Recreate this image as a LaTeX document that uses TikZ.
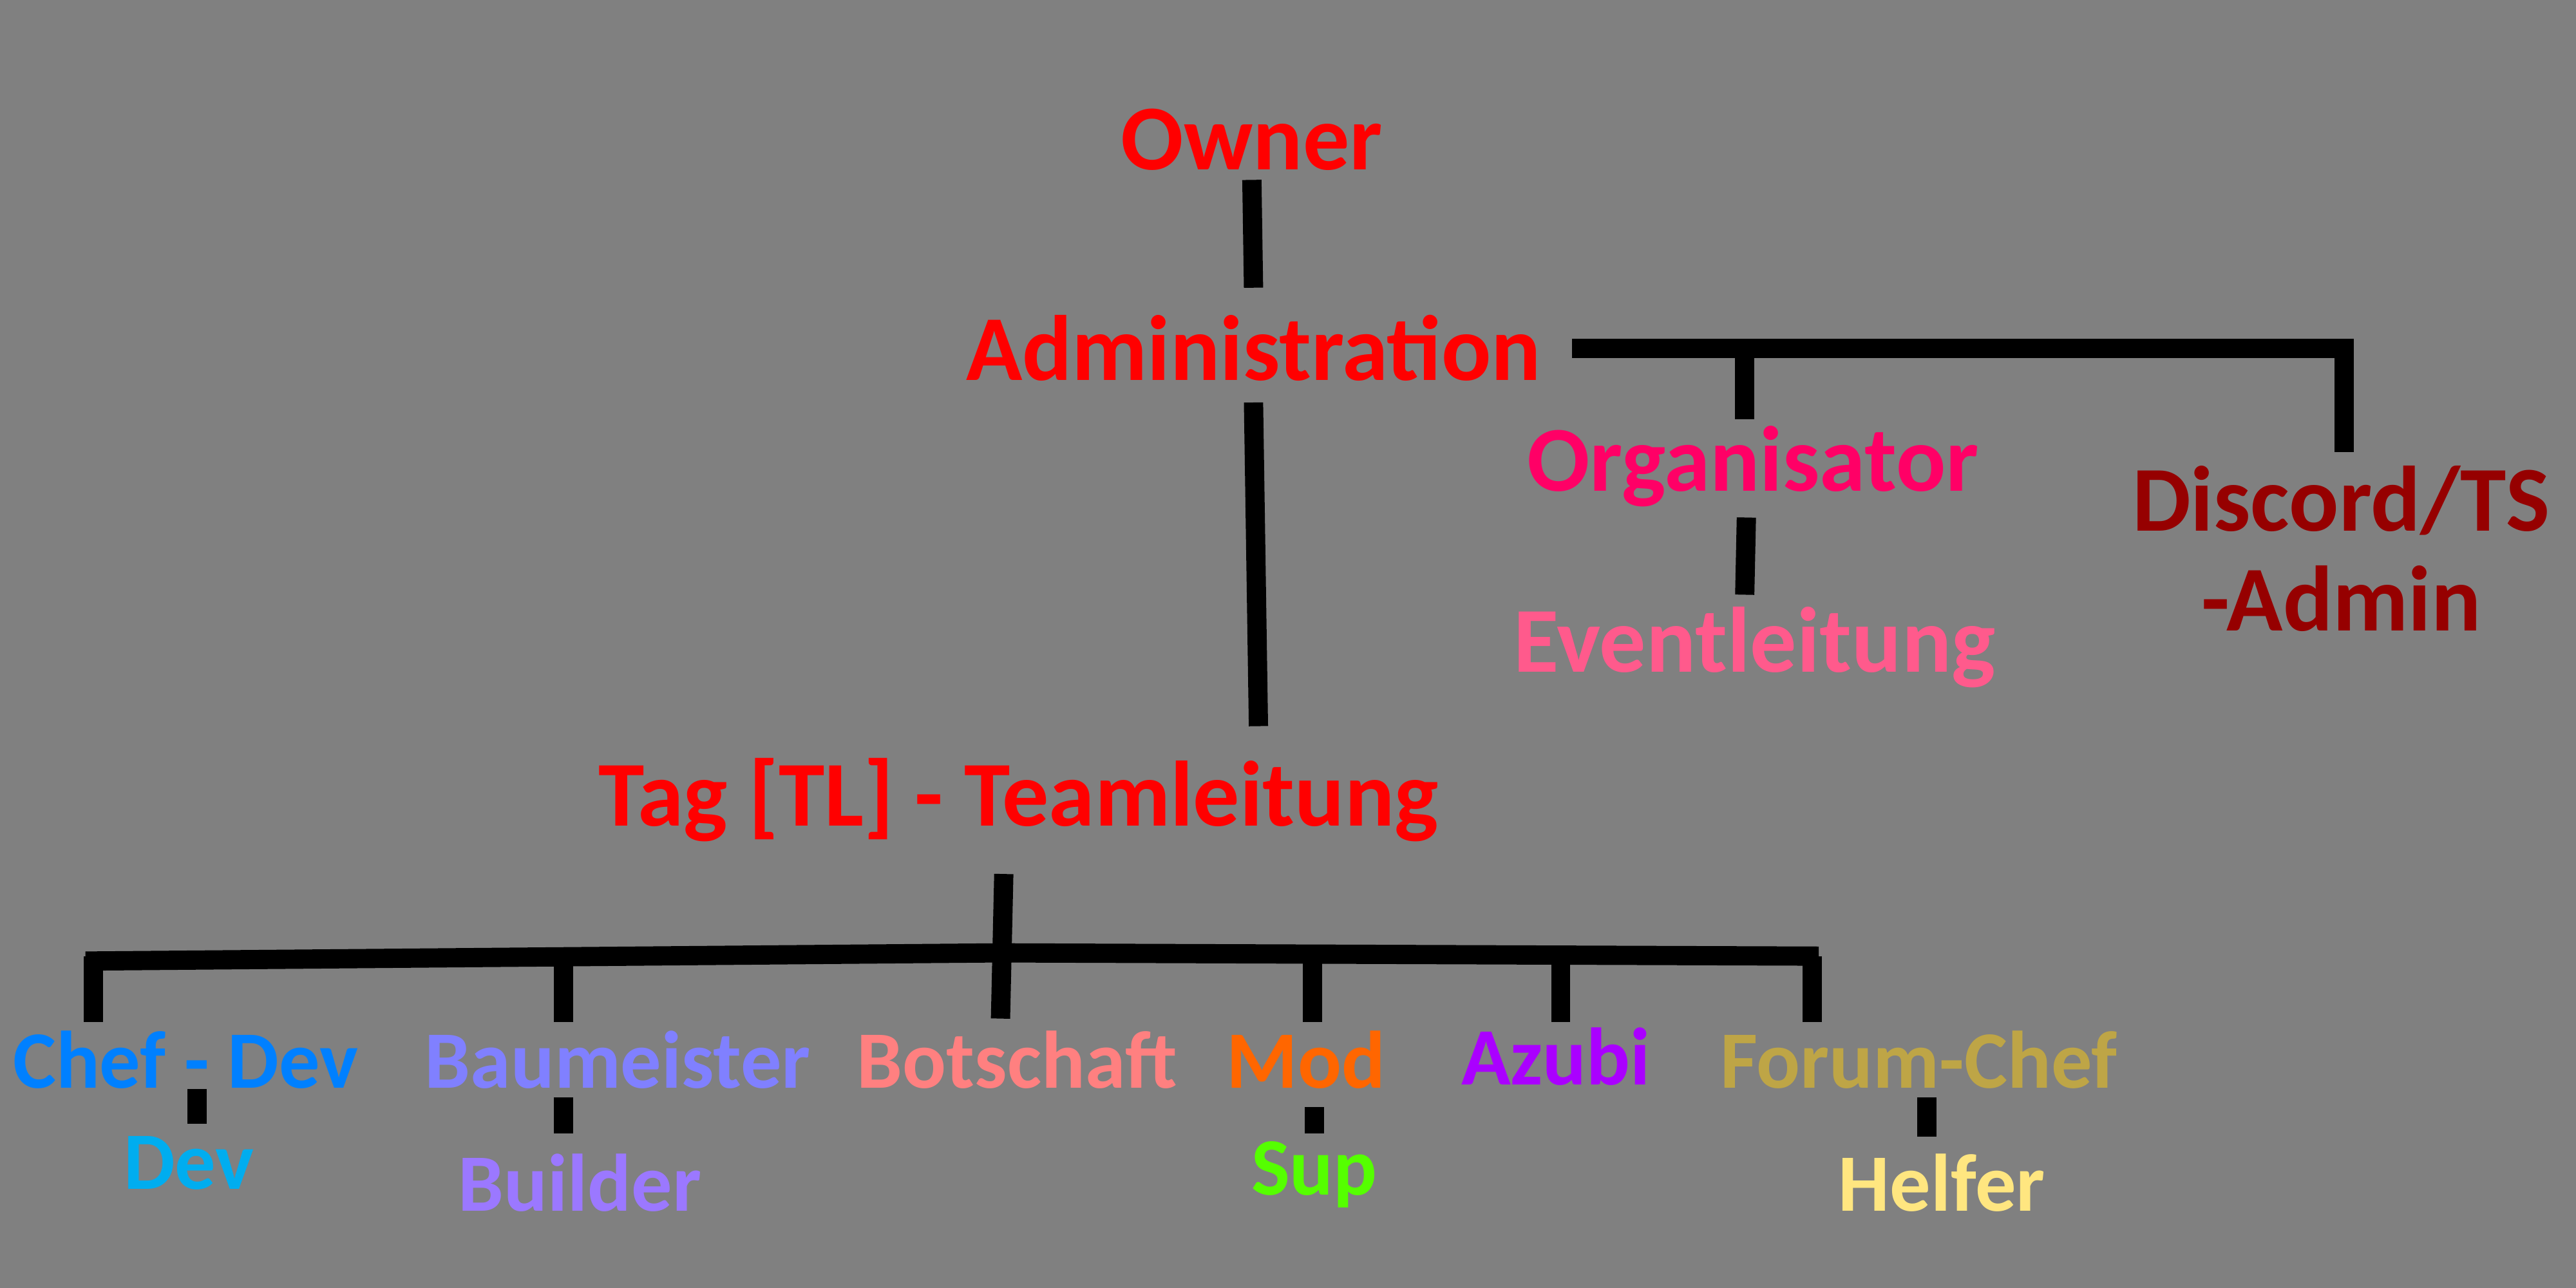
\documentclass[tikz,border=0pt]{standalone}
\usepackage{fontspec}
\setmainfont{Carlito}
\usetikzlibrary{positioning}
\begin{document}
\begin{tikzpicture}[
    x=0.02551cm, y=-0.02551cm,
    big/.style={font=\fontsize{41}{44}\selectfont\bfseries, inner sep=0pt},
    small/.style={font=\fontsize{36}{40}\selectfont\bfseries, inner sep=0pt},
    link/.style={line width=8.5pt, black}
]
    \fill[gray] (0,0) rectangle (1568,784);
    \useasboundingbox (0,0) rectangle (1568,784);

    \node (owner) [big, red] at (762,85) {Owner};
    \node (admin) [big, red] at (763,212) {Administration};
    \node (orga) [big, color={rgb,255:red,255;green,0;blue,102}] at (1067,284) {Organisator};
    \node (event) [big, color={rgb,255:red,255;green,90;blue,140}] at (1068,394) {Eventleitung};
    \node (discord) [big, color={rgb,255:red,150;green,0;blue,0}, align=center] at (1425,334) {Discord/TS\\-Admin};
    \node (tl) [big, red] at (620,487) {Tag [TL] - Teamleitung};

    \node (chef) [small, color={rgb,255:red,0;green,128;blue,255}] at (113,645) {Chef - Dev};
    \node (bau) [small, color={rgb,255:red,128;green,128;blue,255}] at (376,645) {Baumeister};
    \node (bot) [small, color={rgb,255:red,255;green,128;blue,128}] at (619,645) {Botschaft};
    \node (mod) [small, color={rgb,255:red,255;green,102;blue,0}] at (795,645) {Mod};
    \node (azubi) [small, color={rgb,255:red,170;green,0;blue,255}] at (947,643) {Azubi};
    \node (forum) [small, color={rgb,255:red,190;green,165;blue,70}] at (1168,645) {Forum-Chef};

    \node (dev) [small, cyan] at (115,708) {Dev};
    \node (builder) [small, color={rgb,255:red,155;green,120;blue,255}] at (353,720) {Builder};
    \node (sup) [small, color={rgb,255:red,85;green,255;blue,0}] at (800,715) {Sup};
    \node (helfer) [small, color={rgb,255:red,255;green,230;blue,128}] at (1182,720) {Helfer};

    % top part
    \draw [link] ([yshift=-4]owner.south) -- ([yshift=12]admin.north);
    \coordinate (aright) at (1427,212);
    \draw [link] (957,212) -- (aright) -- (1427,275);
    \draw [link] (1062,212) -- (1062,255);
    \draw [link] (1063,315) -- (1062,362);
    \draw [link] (763,245) -- (766,442);

    % team
    \draw [link] (611,532) -- (609,620);
    \draw [link] (52,585) -- (609,580) -- (1107,582);
    \foreach \x in {57,343,799,950,1103}
        \draw [link] (\x,582) -- (\x,622);
    \draw [link] (120,663) -- (120,684);
    \draw [link] (343,668) -- (343,690);
    \draw [link] (800,674) -- (800,690);
    \draw [link] (1173,668) -- (1173,692);
\end{tikzpicture}
\end{document}
